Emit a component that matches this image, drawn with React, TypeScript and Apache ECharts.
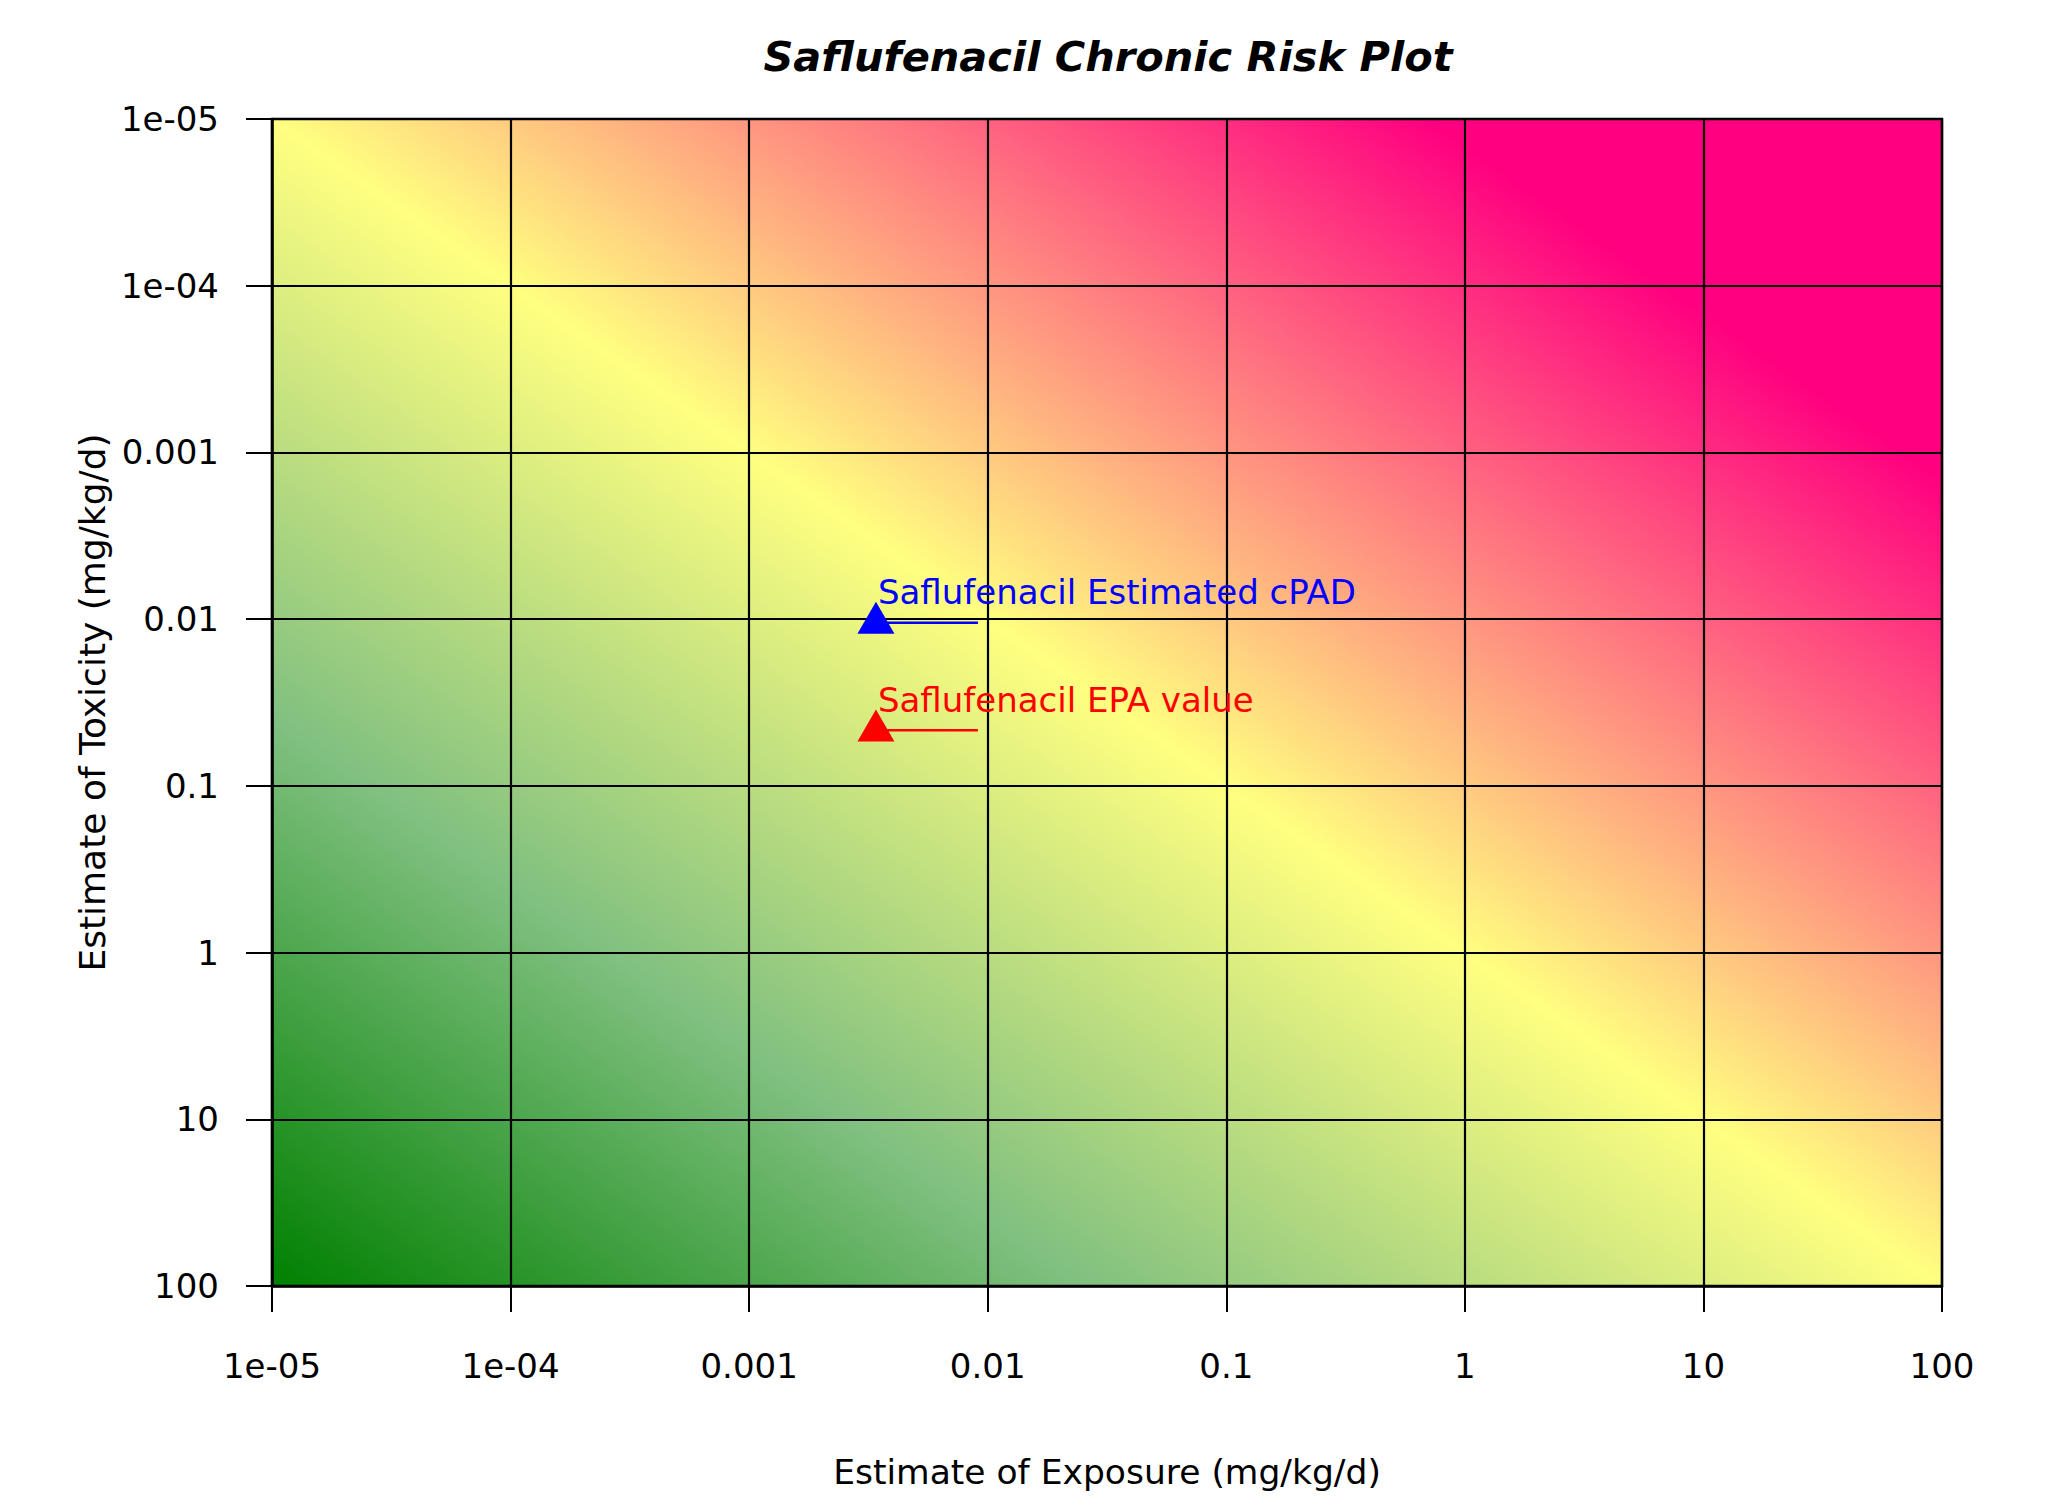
import React, { useEffect, useRef } from "react";
import * as echarts from "echarts";

// ---- data ----
const axisTickValues = [1e-5, 1e-4, 0.001, 0.01, 0.1, 1, 10, 100];
const axisTickLabels = ["1e-05", "1e-04", "0.001", "0.01", "0.1", "1", "10", "100"];
const exposureRange = [1e-5, 100];
const toxicityRange = [1e-5, 100];

const pointNames = ["Saflufenacil Estimated cPAD", "Saflufenacil EPA value"];
const pointExposure = [0.0034, 0.0034];
const pointToxicity = [0.0098, 0.0434];
const leaderEndExposure = [0.0091, 0.0091];
const leaderToxicity = [0.0105, 0.0464];
const pointColors = ["#0000FF", "#FF0000"];

// colour ramp over log10(exposure / toxicity)
const riskRatioStops = [-7, -3.6, 0, 4.85, 7];
const riskRatioColors = ["#008000", "#80C080", "#FFFF80", "#FF0080", "#FF0080"];

const FONT = "DejaVu Sans";

function tickLabel(v: number): string {
  const i = axisTickValues.findIndex(
    (t) => Math.abs(Math.log10(t) - Math.log10(v)) < 1e-6
  );
  return i >= 0 ? axisTickLabels[i] : "";
}

export default function App() {
  const ref = useRef<HTMLDivElement | null>(null);

  useEffect(() => {
    document.body.style.margin = "0";
    if (!ref.current) return;
    const chart = echarts.init(ref.current, null, { renderer: "svg" });

    const axisCommon = {
      type: "log" as const,
      logBase: 10,
      splitNumber: 7,
      z: 1,
      axisLine: { show: true, lineStyle: { color: "#000", width: 2.5 } },
      axisTick: { show: true, inside: false, length: 26, lineStyle: { color: "#000", width: 2 } },
      splitLine: { show: true, lineStyle: { color: "#000", width: 2.2 } },
      nameLocation: "middle" as const,
    };

    const series: any[] = [
      {
        type: "custom",
        z: 0,
        silent: true,
        clip: false,
        encode: { x: [0, 2], y: [1, 3] },
        data: [[exposureRange[0], toxicityRange[0], exposureRange[1], toxicityRange[1]]],
        renderItem: (params: any, api: any) => {
          const x0 = api.value(0), y0 = api.value(1), x1 = api.value(2), y1 = api.value(3);
          const bl = api.coord([x0, y1]);
          const tr = api.coord([x1, y0]);
          const L = bl[0], B = bl[1], R = tr[0], T = tr[1];
          const W = R - L, H = B - T;
          const k = 2 / (1 / (W * W) + 1 / (H * H));
          const dMin = Math.log10(x0) - Math.log10(y1);
          const dMax = Math.log10(x1) - Math.log10(y0);
          const colorStops = riskRatioStops.map((d, i) => ({
            offset: (d - dMin) / (dMax - dMin),
            color: riskRatioColors[i],
          }));
          return {
            type: "rect",
            shape: { x: L, y: T, width: W, height: H },
            style: {
              fill: new echarts.graphic.LinearGradient(L, B, L + k / W, B - k / H, colorStops, true),
            },
          };
        },
      },
    ];

    pointNames.forEach((name, i) => {
      series.push({
        type: "line",
        z: 3,
        silent: true,
        showSymbol: false,
        symbol: "none",
        lineStyle: { color: pointColors[i], width: 2.5 },
        data: [
          [pointExposure[i], leaderToxicity[i]],
          [leaderEndExposure[i], leaderToxicity[i]],
        ],
      });
    });
    pointNames.forEach((name, i) => {
      series.push({
        type: "scatter",
        name,
        z: 4,
        symbol: "triangle",
        symbolSize: [37, 32],
        itemStyle: { color: pointColors[i], opacity: 1 },
        label: {
          show: true,
          formatter: name,
          position: [20.5, -9.5],
          align: "left",
          verticalAlign: "middle",
          fontSize: 34,
          fontFamily: FONT,
          color: pointColors[i],
        },
        data: [[pointExposure[i], pointToxicity[i]]],
      });
    });

    chart.setOption({
      animation: false,
      backgroundColor: "#fff",
      title: {
        text: "Saflufenacil Chronic Risk Plot",
        left: 1103,
        top: 31,
        textAlign: "center",
        textStyle: {
          fontSize: 41.5,
          fontWeight: "bold",
          fontStyle: "italic",
          fontFamily: FONT,
          color: "#000",
        },
      },
      grid: {
        left: 272,
        top: 119,
        width: 1670,
        height: 1167,
        show: true,
        z: 1,
        backgroundColor: "transparent",
        borderColor: "#000",
        borderWidth: 2.5,
      },
      xAxis: {
        ...axisCommon,
        min: exposureRange[0],
        max: exposureRange[1],
        name: "Estimate of Exposure (mg/kg/d)",
        nameGap: 168,
        nameTextStyle: { fontSize: 34.5, color: "#000", fontFamily: FONT },
        axisLabel: {
          margin: 63,
          fontSize: 34,
          color: "#000",
          fontFamily: FONT,
          showMinLabel: true,
          showMaxLabel: true,
          formatter: tickLabel,
        },
      },
      yAxis: {
        ...axisCommon,
        inverse: true,
        min: toxicityRange[0],
        max: toxicityRange[1],
        name: "Estimate of Toxicity (mg/kg/d)",
        nameGap: 147,
        nameTextStyle: { fontSize: 36, color: "#000", fontFamily: FONT },
        axisLabel: {
          margin: 53,
          fontSize: 34,
          color: "#000",
          fontFamily: FONT,
          showMinLabel: true,
          showMaxLabel: true,
          formatter: tickLabel,
        },
      },
      series,
    });

    return () => chart.dispose();
  }, []);

  return <div ref={ref} style={{ width: 2057, height: 1496 }} />;
}
